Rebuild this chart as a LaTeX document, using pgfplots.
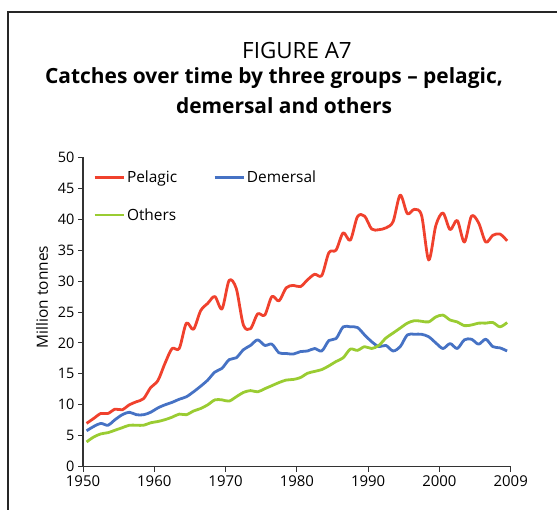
\documentclass[border=0pt]{standalone}
\usepackage{fontspec}
\setmainfont{Open Sans}
\usepackage{pgfplots}
\pgfplotsset{compat=1.18}
\usepackage{pgfplotstable}
\definecolor{cP}{RGB}{240,65,45}
\definecolor{cD}{RGB}{70,114,196}
\definecolor{cO}{RGB}{154,204,50}
\pgfplotstableread{
year P D O
1950 7.0 5.8 4.0
1951 7.8 6.5 4.8
1952 8.6 7.0 5.3
1953 8.6 6.7 5.5
1954 9.3 7.6 5.9
1955 9.2 8.4 6.3
1956 10.0 8.8 6.7
1957 10.5 8.4 6.7
1958 11.0 8.4 6.7
1959 12.8 8.8 7.1
1960 13.9 9.5 7.3
1961 16.7 10.0 7.6
1962 19.1 10.4 8.0
1963 19.1 10.9 8.5
1964 23.2 11.3 8.4
1965 22.2 12.1 9.0
1966 25.2 13.0 9.4
1967 26.4 14.0 10.0
1968 27.5 15.3 10.8
1969 25.5 15.9 10.8
1970 30.1 17.3 10.6
1971 28.8 17.6 11.3
1972 22.9 18.9 12.0
1973 22.3 19.6 12.3
1974 24.7 20.5 12.1
1975 24.5 19.6 12.6
1976 27.5 19.8 13.1
1977 26.8 18.4 13.6
1978 28.9 18.3 14.0
1979 29.3 18.2 14.1
1980 29.1 18.6 14.4
1981 30.2 18.7 15.1
1982 31.1 19.1 15.4
1983 30.9 18.7 15.7
1984 34.6 20.4 16.3
1985 35.0 20.7 17.0
1986 37.8 22.6 17.6
1987 36.6 22.6 19.0
1988 40.4 22.5 18.8
1989 40.5 21.3 19.4
1990 38.4 20.2 19.1
1991 38.3 19.4 19.6
1992 38.6 19.6 20.8
1993 39.6 18.7 21.6
1994 43.9 19.4 22.4
1995 40.9 21.3 23.2
1996 41.6 21.4 23.6
1997 40.6 21.4 23.5
1998 33.4 21.0 23.4
1999 39.0 20.0 24.2
2000 41.0 19.1 24.5
2001 38.3 19.9 23.7
2002 39.8 19.1 23.4
2003 36.3 20.5 22.8
2004 40.5 20.6 22.9
2005 39.4 19.8 23.2
2006 36.3 20.6 23.2
2007 37.4 19.4 23.3
2008 37.6 19.2 22.6
2009 36.5 18.7 23.3
}\catches
\begin{document}
\begin{tikzpicture}
\useasboundingbox (0,0) rectangle (557bp,510bp);
\draw[line width=1.1bp, black!85] (8bp,0bp) -- (8bp,498bp) -- (557bp,498bp);
\node[font=\fontsize{22.5}{26}\selectfont] at (297bp,460bp) {FIGURE A7};
\node[font=\fontsize{21}{24}\selectfont\bfseries] at (274bp,432bp) {Catches over time by three groups – pelagic,};
\node[font=\fontsize{21}{24}\selectfont\bfseries] at (284bp,404bp) {demersal and others};
\node[rotate=90, font=\fontsize{15.5}{18}\selectfont] at (42bp,213bp) {Million tonnes};
\begin{axis}[
  at={(83bp,43.3bp)}, anchor=south west,
  scale only axis, width=427.7bp, height=309.4bp,
  xmin=1949.5, xmax=2009.5, ymin=0, ymax=50,
  axis lines*=left,
  axis line style={line width=1.2bp, black!80},
  xtick={1949.5,1959.5,1969.5,1979.5,1989.5,1999.5,2009.5},
  xticklabels={1950,1960,1970,1980,1990,2000,\raisebox{2bp}{2009}},
  ytick={0,5,10,15,20,25,30,35,40,45,50},
  tick align=outside, major tick length=5bp,
  tick style={line width=1bp, black!80},
  /pgf/number format/assume math mode=true,
  yticklabel style={font=\fontsize{14.5}{16}\selectfont},
  xticklabel style={font=\fontsize{15}{16}\selectfont},
  legend columns=2,
  legend cell align=left,
  legend image code/.code={\draw[#1] (0bp,0bp) -- (29bp,0bp);},
  legend style={at={(0.0234,0.962)}, anchor=north west, draw=none, fill=none,
    font=\fontsize{15.5}{18}\selectfont, inner sep=0pt,
    row sep=20bp,
    /tikz/every even column/.append style={column sep=34bp}},
  every axis plot/.append style={line width=2.8bp, smooth, tension=0.5, line join=round},
]
\addplot[cP] table[x=year,y=P] {\catches};
\addlegendentry{Pelagic}
\addplot[cD] table[x=year,y=D] {\catches};
\addlegendentry{Demersal}
\addplot[cO] table[x=year,y=O] {\catches};
\addlegendentry{Others}
\end{axis}
\end{tikzpicture}
\end{document}
